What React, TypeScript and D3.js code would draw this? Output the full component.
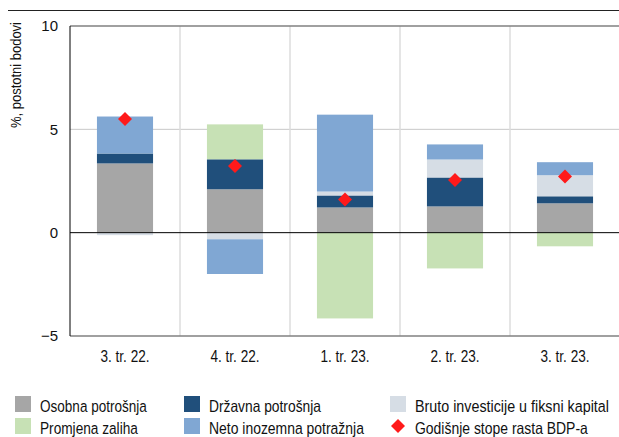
import React from "react";
import * as d3 from "d3";

const categories = ["3. tr. 22.", "4. tr. 22.", "1. tr. 23.", "2. tr. 23.", "3. tr. 23."];
const osobna = [3.35, 2.1, 1.22, 1.27, 1.42];
const drzavna = [0.48, 1.45, 0.58, 1.4, 0.34];
const bruto = [-0.12, -0.32, 0.19, 0.87, 1.02];
const zalihe = [0, 1.69, -4.15, -1.73, -0.66];
const neto = [1.79, -1.68, 3.72, 0.73, 0.63];
const bdp = [5.5, 3.22, 1.61, 2.55, 2.72];
const yTicks = [-5, 0, 5, 10];

const seriesKeys = ["osobna", "drzavna", "bruto", "zalihe", "neto"];
const seriesNames = [
  "Osobna potrošnja",
  "Državna potrošnja",
  "Bruto investicije u fiksni kapital",
  "Promjena zaliha",
  "Neto inozemna potražnja",
];
const colors = ["#a6a6a6", "#204f7b", "#d6dde5", "#c7e1b5", "#80a7d3"];

const FONT = "'Liberation Sans', Arial, sans-serif";

let ctx: CanvasRenderingContext2D | null = null;
function measure(text: string, size: number): number {
  if (!ctx) {
    const c = document.createElement("canvas");
    ctx = c.getContext("2d");
  }
  if (!ctx) return text.length * size * 0.5;
  ctx.font = `${size}px 'Liberation Sans', Arial, sans-serif`;
  return ctx.measureText(text).width;
}

function FitText(props: {
  x: number; y: number; text: string; size: number; width: number;
  anchor?: "start" | "middle" | "end"; rotate?: number;
}) {
  const { x, y, text, size, width, anchor = "start", rotate = 0 } = props;
  const s = width / measure(text, size);
  return (
    <text
      transform={`translate(${x},${y}) rotate(${rotate}) scale(${s},1)`}
      textAnchor={anchor}
      fontSize={size}
      fill="#111"
    >
      {text}
    </text>
  );
}

export default function App() {
  const W = 619, H = 437;
  const left = 70, right = 620, top = 26, bottom = 336;
  const x = d3.scaleBand<string>().domain(categories).range([left, right]).paddingInner(0).paddingOuter(0);
  const y = d3.scaleLinear().domain([-5, 10]).range([bottom, top]);
  const barW = x.bandwidth() * 0.51;

  const rows = categories.map((c, i) => ({
    cat: c,
    osobna: osobna[i],
    drzavna: drzavna[i],
    bruto: bruto[i],
    zalihe: zalihe[i],
    neto: neto[i],
  }));
  const stack = d3.stack<any>().keys(seriesKeys).offset(d3.stackOffsetDiverging);
  const series = stack(rows);

  const legendItems = [
    { name: seriesNames[0], color: colors[0], x: 15, y: 396, type: "rect", len: 107 },
    { name: seriesNames[1], color: colors[1], x: 184, y: 396, type: "rect", len: 112 },
    { name: seriesNames[2], color: colors[2], x: 390, y: 396, type: "rect", len: 194 },
    { name: seriesNames[3], color: colors[3], x: 15, y: 418, type: "rect", len: 98 },
    { name: seriesNames[4], color: colors[4], x: 184, y: 418, type: "rect", len: 155 },
    { name: "Godišnje stope rasta BDP-a", color: "#ff1a1a", x: 390, y: 418, type: "diamond", len: 173 },
  ];

  const diamond = (cx: number, cy: number, r: number) =>
    `M${cx},${cy - r}L${cx + r},${cy}L${cx},${cy + r}L${cx - r},${cy}Z`;

  return (
    <svg width={W} height={H} style={{ position: "absolute", left: 0, top: 0, display: "block", background: "#fff" }} fontFamily={FONT}>
      {/* top rule */}
      <line x1={8} x2={W} y1={10.5} y2={10.5} stroke="#222" strokeWidth={1} />
      {/* horizontal grid at 5 */}
      <line x1={left} x2={W} y1={y(5)} y2={y(5)} stroke="#c8c8c8" strokeWidth={1} />
      {/* vertical grid */}
      {categories.slice(1).map((c) => (
        <line key={c} x1={x(c)!} x2={x(c)!} y1={top} y2={bottom} stroke="#dcdcdc" strokeWidth={1.5} />
      ))}
      {/* bars */}
      {series.map((s, si) =>
        s.map((d, i) => {
          const y0 = y(d[0]);
          const y1 = y(d[1]);
          const h = Math.abs(y0 - y1);
          if (h < 0.01) return null;
          return (
            <rect
              key={si + "-" + i}
              x={x(categories[i])! + (x.bandwidth() - barW) / 2}
              width={barW}
              y={Math.min(y0, y1)}
              height={h}
              fill={colors[si]}
            />
          );
        })
      )}
      {/* plot frame */}
      <line x1={left} x2={W} y1={top} y2={top} stroke="#808080" strokeWidth={1.5} />
      <line x1={left} x2={W} y1={bottom} y2={bottom} stroke="#808080" strokeWidth={1.5} />
      <line x1={left} x2={left} y1={top} y2={bottom} stroke="#000" strokeWidth={1} />
      <line x1={left} x2={W} y1={y(0)} y2={y(0)} stroke="#000" strokeWidth={1} />
      {/* diamonds */}
      {bdp.map((v, i) => (
        <path key={i} d={diamond(x(categories[i])! + x.bandwidth() / 2, y(v), 7)} fill="#ff1a1a" />
      ))}
      {/* y ticks */}
      {yTicks.map((t) => (
        <text key={t} x={58} y={y(t)} dy="0.36em" textAnchor="end" fontSize={15} fill="#111">
          {t < 0 ? "−" + Math.abs(t) : t}
        </text>
      ))}
      {/* y title */}
      <FitText x={21} y={75} text="%, postotni bodovi" size={14.5} width={106} anchor="middle" rotate={-90} />
      {/* x labels */}
      {categories.map((c) => (
        <FitText key={c} x={x(c)! + x.bandwidth() / 2} y={362} text={c} size={16} width={49} anchor="middle" />
      ))}
      {/* legend */}
      {legendItems.map((it) => (
        <g key={it.name}>
          {it.type === "rect" ? (
            <rect x={it.x} y={it.y} width={16} height={16} fill={it.color} />
          ) : (
            <path d={diamond(it.x + 8, it.y + 8, 7)} fill={it.color} />
          )}
          <FitText x={it.x + 25} y={it.y + 16} text={it.name} size={16.5} width={it.len} />
        </g>
      ))}
    </svg>
  );
}
